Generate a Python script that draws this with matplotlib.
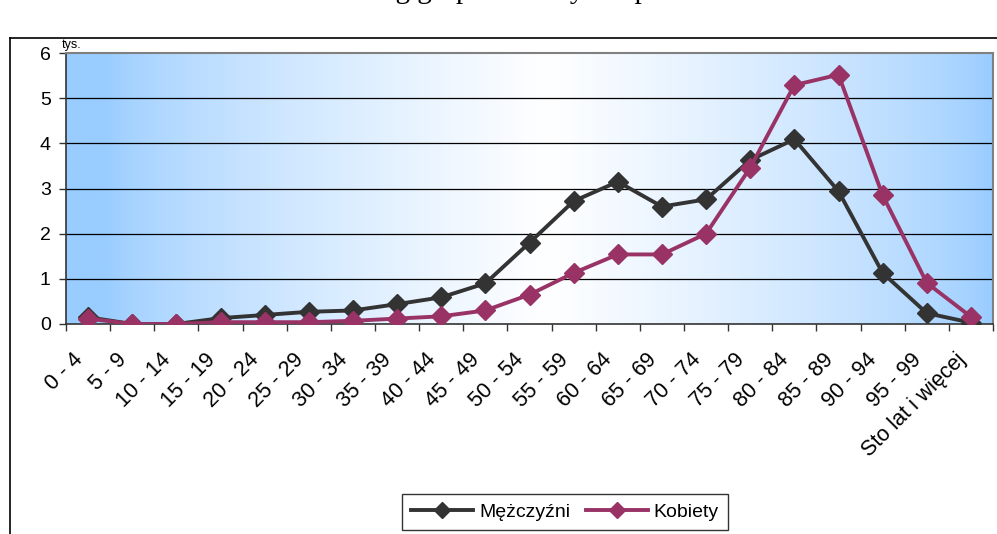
import numpy as np
import matplotlib
matplotlib.use("Agg")
import matplotlib.pyplot as plt
from matplotlib.lines import Line2D
from matplotlib.colors import to_rgb
import matplotlib.transforms as mtransforms

# age groups and values (thousands)
categories = ["0 - 4", "5 - 9", "10 - 14", "15 - 19", "20 - 24", "25 - 29", "30 - 34",
              "35 - 39", "40 - 44", "45 - 49", "50 - 54", "55 - 59", "60 - 64", "65 - 69",
              "70 - 74", "75 - 79", "80 - 84", "85 - 89", "90 - 94", "95 - 99",
              "Sto lat i więcej"]
men = [0.15, 0.0, 0.0, 0.13, 0.2, 0.27, 0.3, 0.44, 0.59, 0.9, 1.8, 2.72, 3.15, 2.6,
       2.76, 3.63, 4.09, 2.94, 1.13, 0.24, 0.03]
women = [0.12, 0.0, 0.0, 0.04, 0.04, 0.04, 0.07, 0.12, 0.17, 0.3, 0.65, 1.13, 1.54, 1.54,
         2.0, 3.46, 5.29, 5.52, 2.85, 0.91, 0.16]
yticks = [0, 1, 2, 3, 4, 5, 6]

W, H = 997, 534
fig = plt.figure(figsize=(W / 100, H / 100), dpi=100)

# title is cut off at the top, only descenders visible
fig.text(0.46, 1.0 + 2 / H, "Zmarli według grup wiekowych i płci", ha="center",
         va="baseline", fontsize=21, family="Liberation Serif")

# outer chart frame
fig.add_artist(Line2D([10 / W, 10 / W], [0, 1 - 38 / H], color="black", lw=1.2))
fig.add_artist(Line2D([10 / W, 1], [1 - 38 / H, 1 - 38 / H], color="black", lw=1.2))

left, right, top, bottom = 66, 993, 53, 324
ax = fig.add_axes([left / W, 1 - bottom / H, (right - left) / W, (bottom - top) / H])

# gradient background: blue at the sides, white in the middle
blue = np.array(to_rgb("#99CCFF"))
white = np.ones(3)
t = np.linspace(0, 1, 400)
f = np.clip(1 - np.abs(t - 0.52) * 2.1, 0, 1) ** 0.7
grad = blue[None, :] + (white - blue)[None, :] * f[:, None]
ax.imshow(grad[None, :, :], aspect="auto", extent=[-0.5, len(categories) - 0.5, 0, 6],
          zorder=0, interpolation="bilinear")

x = np.arange(len(categories))
for yv in yticks[1:-1]:
    ax.axhline(yv, color="black", lw=0.9, zorder=1)

ax.plot(x, men, color="#333333", lw=2.8, marker="D", markersize=10, zorder=3,
        label="Mężczyźni")
ax.plot(x, women, color="#993366", lw=2.8, marker="D", markersize=10, zorder=4,
        label="Kobiety")

ax.set_xlim(-0.5, len(categories) - 0.5)
ax.set_ylim(0, 6)
ax.set_yticks(yticks)
ax.set_yticklabels([str(v) for v in yticks], fontsize=14, family="Liberation Sans")
ax.set_xticks(np.arange(len(categories) + 1) - 0.5)
ax.set_xticklabels([])
ax.tick_params(axis="both", direction="out", length=5, width=1, colors="#333333",
               labelcolor="black")
ax.tick_params(axis="y", pad=6)

# category labels rotated, between ticks
offset = mtransforms.ScaledTranslation(-16 / 100, -25 / 100, fig.dpi_scale_trans)
for i, lab in enumerate(categories):
    ax.text(i, 0, lab, rotation=45, ha="right", va="top", rotation_mode="anchor",
            fontsize=15.5, family="Liberation Sans",
            transform=mtransforms.blended_transform_factory(ax.transData, ax.transAxes) + offset)

for s in ["top", "right"]:
    ax.spines[s].set_color("#808080")
    ax.spines[s].set_linewidth(1.5)
for s in ["left", "bottom"]:
    ax.spines[s].set_color("#333333")
    ax.spines[s].set_linewidth(1.2)

fig.text(62 / W, 1 - 51 / H, "tys.", fontsize=9, family="Liberation Sans", va="bottom")

leg = fig.legend(loc="center", bbox_to_anchor=(565 / W, 1 - 512 / H), ncol=2,
                 frameon=True, fancybox=False, edgecolor="black",
                 prop={"family": "Liberation Sans", "size": 14},
                 handlelength=3.2, handletextpad=0.3, columnspacing=0.8,
                 borderpad=0.45, markerscale=0.8)
leg.get_frame().set_linewidth(1.0)

fig.savefig("out.png", dpi=100)
